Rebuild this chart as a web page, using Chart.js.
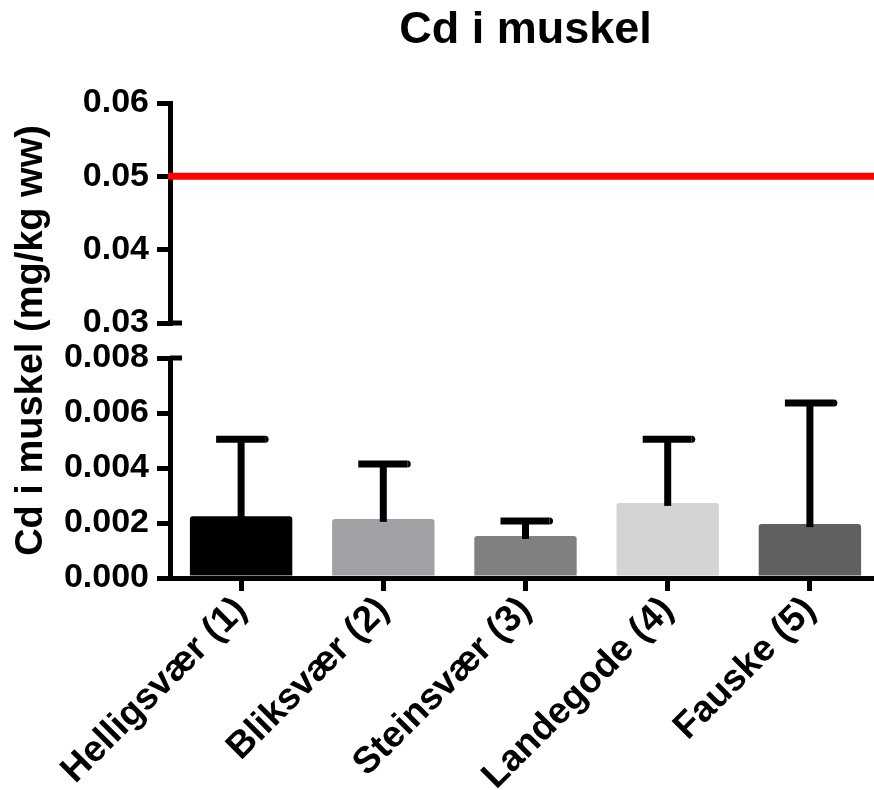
<!DOCTYPE html>
<html>
<head>
<meta charset="utf-8">
<script src="https://cdn.jsdelivr.net/npm/chart.js@4.4.1/dist/chart.umd.min.js"></script>
<style>
html,body{margin:0;padding:0;overflow:hidden;background:#fff;}
#wrap{width:881px;height:790px;}
</style>
</head>
<body>
<div id="wrap"><canvas id="c" width="881" height="790"></canvas></div>
<script>
const chartTitle = 'Cd i muskel';
const yAxisTitle = 'Cd i muskel (mg/kg ww)';
const categories = ['Helligsvær (1)', 'Bliksvær (2)', 'Steinsvær (3)', 'Landegode (4)', 'Fauske (5)'];
const means = [0.00225, 0.00215, 0.00153, 0.00273, 0.00196];
const errors = [0.00280, 0.00200, 0.00054, 0.00232, 0.00440];
const barColors = ['#000000', '#a1a1a5', '#808080', '#d4d4d4', '#606060'];
const limitValue = 0.05;
const upperTicks = [0.03, 0.04, 0.05, 0.06];
const upperTickLabels = ['0.03', '0.04', '0.05', '0.06'];
const lowerTicks = [0, 0.002, 0.004, 0.006, 0.008];
const lowerTickLabels = ['0.000', '0.002', '0.004', '0.006', '0.008'];

const FONT = "'Liberation Sans', Arial, Helvetica, sans-serif";

function yScale(ticksArr, labelsArr, weight, stackWeight) {
  return {
    type: 'linear', position: 'left', stack: 'ybreak', stackWeight: stackWeight, weight: weight,
    min: ticksArr[0], max: ticksArr[ticksArr.length - 1],
    afterBuildTicks: s => { s.ticks = ticksArr.map(v => ({ value: v })); },
    afterFit: s => { s.width = 170; },
    border: { display: true, color: '#000', width: 5 },
    grid: { display: true, drawOnChartArea: false, drawTicks: true, tickLength: 13, tickWidth: 5, tickColor: '#000', lineWidth: 5, color: '#000' },
    ticks: {
      color: '#000', padding: 8,
      font: { family: FONT, size: 34, weight: 'bold' },
      callback: (v) => { const k = ticksArr.findIndex(t => Math.abs(t - v) < 1e-9); return k >= 0 ? labelsArr[k] : ''; }
    }
  };
}

const decor = {
  id: 'decor',
  afterDatasetsDraw(chart) {
    const ctx = chart.ctx, ys = chart.scales.y, meta = chart.getDatasetMeta(0);
    ctx.save();
    ctx.strokeStyle = '#000';
    ctx.lineWidth = 7;
    ctx.lineCap = 'butt';
    meta.data.forEach((bar, i) => {
      const top = ys.getPixelForValue(means[i] + errors[i]);
      ctx.beginPath(); ctx.moveTo(bar.x, bar.y + 3); ctx.lineTo(bar.x, top); ctx.stroke();
      ctx.beginPath(); ctx.moveTo(bar.x - 25, top); ctx.lineTo(bar.x + 24, top); ctx.stroke();
      ctx.beginPath(); ctx.arc(bar.x + 24, top, 3.5, -Math.PI / 2, Math.PI / 2); ctx.fillStyle = '#000'; ctx.fill();
    });
    ctx.restore();
  },
  afterDraw(chart) {
    const { ctx, chartArea, scales } = chart;
    ctx.save();
    ctx.strokeStyle = '#000';
    ctx.lineWidth = 5;
    [[scales.yTop, upperTicks[0]], [scales.y, lowerTicks[lowerTicks.length - 1]]].forEach(([s, v]) => {
      const py = s.getPixelForValue(v);
      ctx.beginPath(); ctx.moveTo(chartArea.left, py); ctx.lineTo(chartArea.left + 12, py); ctx.stroke();
    });
    const ly = scales.yTop.getPixelForValue(limitValue);
    ctx.strokeStyle = '#ff0000';
    ctx.lineWidth = 7;
    ctx.beginPath(); ctx.moveTo(chartArea.left - 2, ly); ctx.lineTo(chartArea.right, ly); ctx.stroke();
    ctx.fillStyle = '#000';
    ctx.font = 'bold 38px ' + FONT;
    ctx.textAlign = 'center';
    ctx.textBaseline = 'alphabetic';
    ctx.translate(42, (chartArea.top + chartArea.bottom) / 2);
    ctx.rotate(-Math.PI / 2);
    ctx.fillText(yAxisTitle, 0, 0);
    ctx.restore();
  }
};

new Chart(document.getElementById('c'), {
  type: 'bar',
  data: {
    labels: categories,
    datasets: [{
      data: means, yAxisID: 'y', xAxisID: 'x',
      backgroundColor: barColors, borderWidth: 0, borderRadius: 3,
      barPercentage: 0.9, categoryPercentage: 0.8
    }]
  },
  options: {
    responsive: false, animation: false,
    layout: { padding: 0 },
    plugins: {
      legend: { display: false },
      tooltip: { enabled: false },
      title: {
        display: true, text: chartTitle, fullSize: false, color: '#000',
        font: { family: FONT, size: 45, weight: 'bold', lineHeight: 1.2 },
        padding: { top: 4, bottom: 45 }
      }
    },
    scales: {
      x: {
        type: 'category', offset: true,
        afterFit: s => { s.height = 212; },
        border: { display: true, color: '#000', width: 5 },
        grid: { display: true, offset: false, drawOnChartArea: false, tickLength: 13, tickWidth: 5, tickColor: '#000', lineWidth: 5, color: '#000' },
        ticks: { autoSkip: false, maxRotation: 45, minRotation: 45, color: '#000', padding: 0, font: { family: FONT, size: 37, weight: 'bold', lineHeight: 1.0 } }
      },
      y: yScale(lowerTicks, lowerTickLabels, 1, 220),
      yGap: { type: 'linear', position: 'left', stack: 'ybreak', stackWeight: 35, weight: 2, display: false },
      yTop: yScale(upperTicks, upperTickLabels, 3, 220)
    }
  },
  plugins: [decor]
});
</script>
</body>
</html>
